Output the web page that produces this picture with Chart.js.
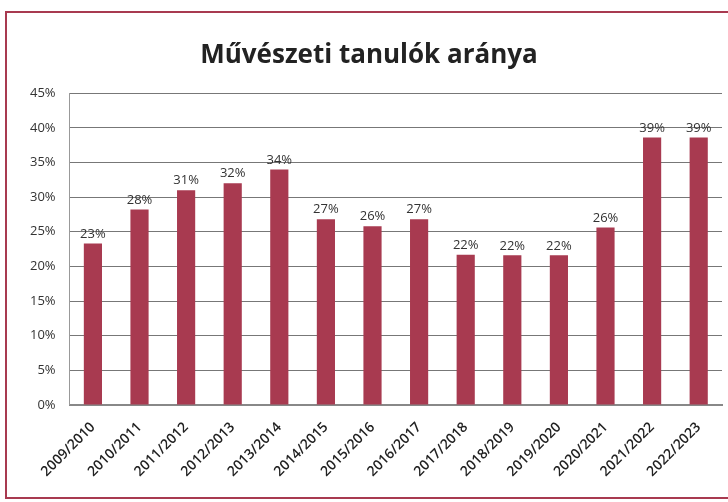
<!DOCTYPE html>
<html lang="hu">
<head>
  <meta charset="UTF-8">
  <title>Művészeti tanulók aránya</title>
  <script src="https://cdn.jsdelivr.net/npm/chart.js"></script>
  <style>
    body {
      margin: 0;
      background: #fff;
      width: 728px;
      height: 502px;
      overflow: hidden;
      position: relative;
    }
    .frame {
      position: absolute;
      left: 5px;
      top: 11px;
      width: 740px;
      height: 484px;
      border: 2px solid #a83a50;
      pointer-events: none;
    }
    #artChart {
      position: absolute;
      left: 0;
      top: 0;
    }
  </style>
</head>
<body>
  <canvas id="artChart" width="728" height="502"></canvas>
  <div class="frame"></div>

  <script>
    const years = [
      '2009/2010', '2010/2011', '2011/2012', '2012/2013', '2013/2014',
      '2014/2015', '2015/2016', '2016/2017', '2017/2018', '2018/2019',
      '2019/2020', '2020/2021', '2021/2022', '2022/2023'
    ];
    // arány (%)
    const shares = [23.3, 28.2, 31.0, 32.0, 34.0, 26.8, 25.8, 26.8, 21.7, 21.6, 21.6, 25.6, 38.6, 38.6];
    const yTicks = [0, 5, 10, 15, 20, 25, 30, 35, 40, 45];

    const barColor = '#a83a50';

    // címkék az oszlopok fölé
    const valueLabels = {
      id: 'valueLabels',
      afterDatasetsDraw(chart) {
        const ctx = chart.ctx;
        const meta = chart.getDatasetMeta(0);
        ctx.save();
        ctx.fillStyle = '#333';
        ctx.font = '13px "Open Sans", sans-serif';
        ctx.textAlign = 'center';
        ctx.textBaseline = 'bottom';
        meta.data.forEach((bar, i) => {
          ctx.fillText(Math.round(shares[i]) + '%', bar.x, bar.y - 3);
        });
        ctx.restore();
      }
    };

    new Chart(document.getElementById('artChart'), {
      type: 'bar',
      data: {
        labels: years,
        datasets: [{
          data: shares,
          backgroundColor: barColor,
          categoryPercentage: 1,
          barPercentage: 0.39
        }]
      },
      options: {
        responsive: false,
        animation: false,
        devicePixelRatio: 1,
        layout: {
          padding: { left: 16, right: 6, top: 40, bottom: 16 }
        },
        plugins: {
          legend: { display: false },
          tooltip: { enabled: false },
          title: {
            display: true,
            text: 'Művészeti tanulók aránya',
            color: '#222',
            font: { family: '"Open Sans", sans-serif', size: 26, weight: 'bold' },
            padding: { top: 0, bottom: 22 }
          }
        },
        scales: {
          x: {
            grid: { display: false },
            border: { color: '#888', width: 2 },
            ticks: {
              color: '#222',
              font: { family: '"Open Sans", sans-serif', size: 14, weight: '600' },
              minRotation: 45,
              maxRotation: 45,
              padding: 6
            }
          },
          y: {
            min: 0,
            max: 45,
            afterBuildTicks(axis) {
              axis.ticks = yTicks.map(v => ({ value: v }));
            },
            grid: { color: '#777', lineWidth: 1, drawTicks: false },
            border: { color: '#999', width: 1 },
            ticks: {
              color: '#333',
              font: { family: '"Open Sans", sans-serif', size: 13 },
              padding: 14,
              callback: v => v + '%'
            }
          }
        }
      },
      plugins: [valueLabels]
    });
  </script>
</body>
</html>
